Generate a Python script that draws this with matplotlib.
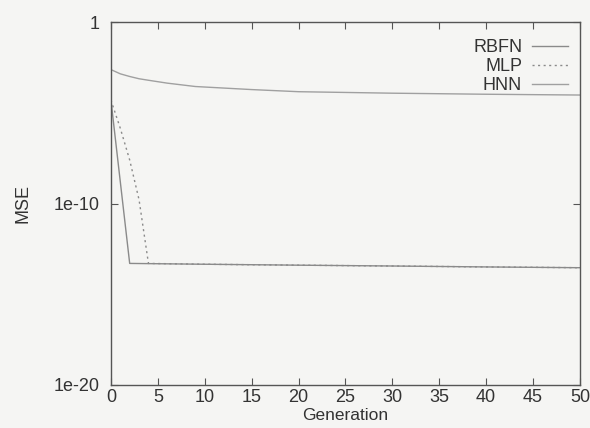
import matplotlib
matplotlib.use('Agg')
import matplotlib.pyplot as plt

# MSE per generation (sparse samples, log scale)
rbfn_gen = [0, 2, 10, 20, 30, 40, 50]
rbfn_mse = [5e-5, 5e-14, 4.5e-14, 4e-14, 3.6e-14, 3.2e-14, 2.9e-14]

mlp_gen = [0, 1, 2, 3, 4, 10, 20, 30, 40, 50]
mlp_mse = [5e-5, 1.4e-6, 2.5e-8, 1.6e-10, 5e-14, 4.5e-14, 4e-14, 3.6e-14, 3.2e-14, 2.9e-14]

hnn_gen = [0, 1, 2, 3, 4, 6, 9, 15, 20, 30, 40, 50]
hnn_mse = [2.4e-3, 1.4e-3, 1.0e-3, 7.5e-4, 6.2e-4, 4.3e-4, 2.8e-4, 1.9e-4, 1.45e-4, 1.2e-4, 1.05e-4, 9.5e-5]

xticks = list(range(0, 51, 5))
yticks = [1e-20, 1e-10, 1]
ytick_labels = ['1e-20', '1e-10', '1']

plt.rcParams['font.family'] = ['Liberation Sans', 'DejaVu Sans']

bg = '#f5f5f3'
txt = '#333333'
fig = plt.figure(figsize=(5.9, 4.28), dpi=100, facecolor=bg)
ax = fig.add_axes([0.188, 0.1005, 0.795, 0.848], facecolor=bg)

line_col = '#8a8a8a'
ax.plot(rbfn_gen, rbfn_mse, color=line_col, lw=1.0, label='RBFN')
ax.plot(mlp_gen, mlp_mse, color=line_col, lw=1.0, ls=(0, (1.5, 2.5)), label='MLP')
ax.plot(hnn_gen, hnn_mse, color='#a0a0a0', lw=1.0, label='HNN')

ax.set_yscale('log')
ax.set_xlim(0, 50)
ax.set_ylim(1e-20, 1)
ax.set_xticks(xticks)
ax.set_yticks(yticks)
ax.set_yticklabels(ytick_labels)
ax.yaxis.set_minor_locator(matplotlib.ticker.NullLocator())

ax.tick_params(direction='in', length=5, width=0.8, color='#555555',
               top=True, right=True, labelsize=13, labelcolor=txt)
ax.tick_params(axis='x', pad=3)
ax.tick_params(axis='y', pad=8)
for s in ax.spines.values():
    s.set_color('#555555')
    s.set_linewidth(1.0)

ax.set_xlabel('Generation', fontsize=12.5, color=txt, labelpad=1)
ax.set_ylabel('MSE', fontsize=13, color=txt, labelpad=16)

leg = ax.legend(loc='upper right', bbox_to_anchor=(1.0, 0.985),
                markerfirst=False, frameon=False,
                fontsize=13, handlelength=2.0, handletextpad=0.55,
                labelspacing=0.1, borderaxespad=0.35, borderpad=0.3)
for t in leg.get_texts():
    t.set_color(txt)

fig.savefig('out.png', dpi=100, facecolor=bg)
